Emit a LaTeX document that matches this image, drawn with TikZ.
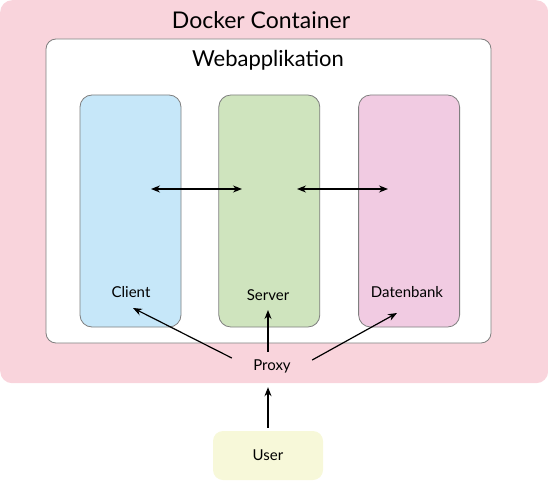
\documentclass[tikz,border=0pt]{standalone}
\usepackage{fontspec}
\setmainfont{Lato}
\usetikzlibrary{positioning, arrows.meta}
\definecolor{dockerpink}{HTML}{F9D4DC}
\definecolor{clientblue}{HTML}{C6E7F9}
\definecolor{servergreen}{HTML}{CFE4BE}
\definecolor{dbmauve}{HTML}{F1CBE2}
\definecolor{useryellow}{HTML}{F7F8D9}
\definecolor{framegray}{HTML}{7F7F7F}

\begin{document}
\begin{tikzpicture}[x=1pt, y=-1pt, >={Stealth[length=9pt, width=7pt]},
    part/.style={draw=framegray, line width=0.8pt, rounded corners=12pt,
      minimum width=101pt, minimum height=232pt},
    title/.style={font=\fontsize{22.5}{26}\selectfont},
    lbl/.style={font=\fontsize{15}{18}\selectfont},
    link/.style={line width=1.2pt}]
      \useasboundingbox (0,0) rectangle (548,481);
      \node[fill=dockerpink, rounded corners=12pt, minimum width=548pt,
        minimum height=383pt, anchor=north west] (docker) at (0,0) {};
      \node[title, font=\fontsize{23}{27}\selectfont] (dockertitle) at (261,20) {Docker Container};
      \node[draw=framegray, fill=white, line width=0.8pt, rounded corners=10pt,
        minimum width=445pt, minimum height=304pt] (webapp) at (268.5,191) {};
      \node[title, font=\fontsize{22}{26}\selectfont] (webapptitle) at (268,60) {Webapplikation};
      \node[part, fill=clientblue] (client) at (130.5,211) {};
      \node[part, fill=servergreen, right=37pt of client] (server) {};
      \node[part, fill=dbmauve, right=38pt of server] (db) {};
      \node[lbl] (clientlabel) at (131,292) {Client};
      \node[lbl] (serverlabel) at (268,295) {Server};
      \node[lbl] (dblabel) at (407,292) {Datenbank};
      \node[lbl, minimum width=80pt, minimum height=28pt] (proxy) at (272,366) {Proxy};
      \node[lbl, fill=useryellow, rounded corners=10pt, minimum width=110pt,
        minimum height=49pt] (user) at (268,455.5) {User};
      % anchor points for the links
      \coordinate (clientport) at (151,189);
      \coordinate (serverleft) at (242,189);
      \coordinate (serverright) at (297,189);
      \coordinate (dbport) at (388,189);
      \coordinate (clientin) at (133,308);
      \coordinate (serverin) at (268,310);
      \coordinate (dbin) at (397,313);
      \path[link] (clientport) edge[<->] (serverleft)
            (serverright) edge[<->] (dbport)
            ([yshift=8pt]proxy.west) edge[->] (clientin)
            ([xshift=-4pt]proxy.north) edge[->] (serverin)
            ([yshift=6pt]proxy.east) edge[->] (dbin)
            ([yshift=3pt]user.north) edge[->] ([xshift=-4pt,yshift=-7pt]proxy.south);
\end{tikzpicture}
\end{document}
